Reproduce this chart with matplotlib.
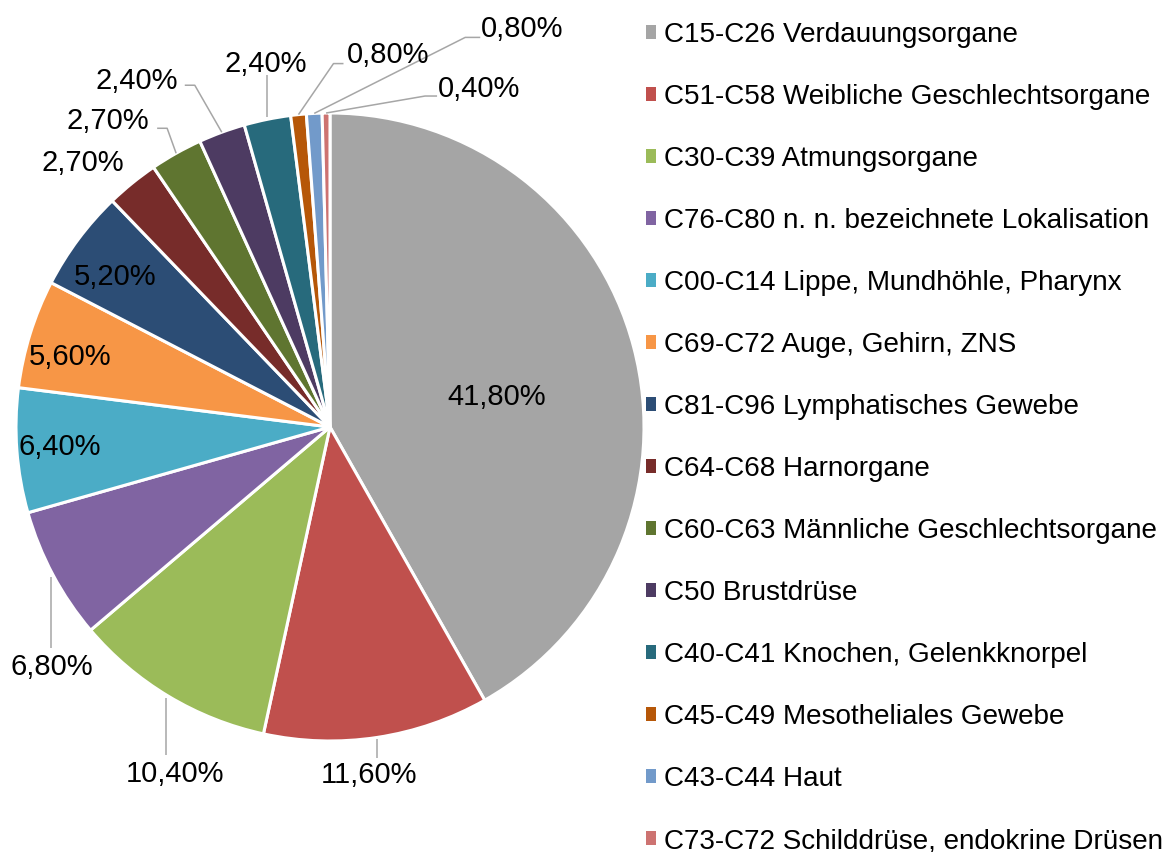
import numpy as np
import matplotlib.pyplot as plt
from matplotlib.patches import Patch

plt.rcParams['font.family'] = ['Liberation Sans', 'DejaVu Sans']

# Daten
kategorien = [
    'C15-C26 Verdauungsorgane',
    'C51-C58 Weibliche Geschlechtsorgane',
    'C30-C39 Atmungsorgane',
    'C76-C80 n. n. bezeichnete Lokalisation',
    'C00-C14 Lippe, Mundhöhle, Pharynx',
    'C69-C72 Auge, Gehirn, ZNS',
    'C81-C96 Lymphatisches Gewebe',
    'C64-C68 Harnorgane',
    'C60-C63 Männliche Geschlechtsorgane',
    'C50 Brustdrüse',
    'C40-C41 Knochen, Gelenkknorpel',
    'C45-C49 Mesotheliales Gewebe',
    'C43-C44 Haut',
    'C73-C72 Schilddrüse, endokrine Drüsen',
]
anteile = [41.8, 11.6, 10.4, 6.8, 6.4, 5.6, 5.2, 2.7, 2.7, 2.4, 2.4, 0.8, 0.8, 0.4]
farben = ['#A5A5A5', '#C0504D', '#9BBB59', '#8064A2', '#4BACC6', '#F79646', '#2C4D75',
          '#772C2A', '#5F7530', '#4D3B62', '#276A7C', '#B65708', '#729ACA', '#CD7371']

# Beschriftungen: Versatz (Pixel, rechts/unten) vom Rand des Segments + Führungslinie
text_versatz = [(-137, 50), (-8, 38), (7, 78), (-1, 92), (43, -4), (40, 23), (37, 38),
                (-49, -20), (-68, -32), (-85, -51), (-2, -55), (90, -60), (208, -84), (153, -24)]
linien = {
    1: [(0, 2), (0, 21)],
    2: [(-2, 2), (-2, 59)],
    3: [(-2, 2), (-2, 73)],
    8: [(0, 0), (-9, -25), (-19, -25)],
    9: [(0, 0), (-27, -47), (-37, -47)],
    10: [(0, -2), (0, -44)],
    11: [(0, 0), (35, -51), (45, -51)],
    12: [(0, 0), (151, -76), (166, -76)],
    13: [(0, 0), (99, -17), (111, -17)],
}

fig = plt.figure(figsize=(11.75, 8.52), dpi=100)
R = 314  # Radius in Pixel
ax = fig.add_axes([(330 - R) / 1175, (852 - 427 - R) / 852, 2 * R / 1175, 2 * R / 852])

wedges, _ = ax.pie(anteile, colors=farben, startangle=90, counterclock=False,
                   wedgeprops=dict(edgecolor='white', linewidth=2.2))
ax.set_xlim(-1, 1)
ax.set_ylim(-1, 1)
ax.axis('off')

for i, w in enumerate(wedges):
    mitte = np.deg2rad((w.theta1 + w.theta2) / 2)
    x0, y0 = np.cos(mitte), np.sin(mitte)
    dx, dy = text_versatz[i]
    txt = f'{anteile[i]:.2f}'.replace('.', ',') + '%'
    ax.text(x0 + dx / R, y0 - dy / R, txt, ha='center', va='center', fontsize=21)
    if i in linien:
        pts = np.array(linien[i], dtype=float)
        ax.plot(x0 + pts[:, 0] / R, y0 - pts[:, 1] / R, color='#A6A6A6', lw=1.1,
                clip_on=False, solid_capstyle='butt')

handles = [Patch(facecolor=c, edgecolor='none') for c in farben]
fig.legend(handles, kategorien, loc='upper left', bbox_to_anchor=(646 / 1175, 1 - 22 / 852),
           frameon=False, fontsize=20.1, handlelength=0.36, handleheight=0.36,
           handletextpad=0.28, labelspacing=1.29, borderpad=0, borderaxespad=0)

plt.savefig('out.png', dpi=100)
